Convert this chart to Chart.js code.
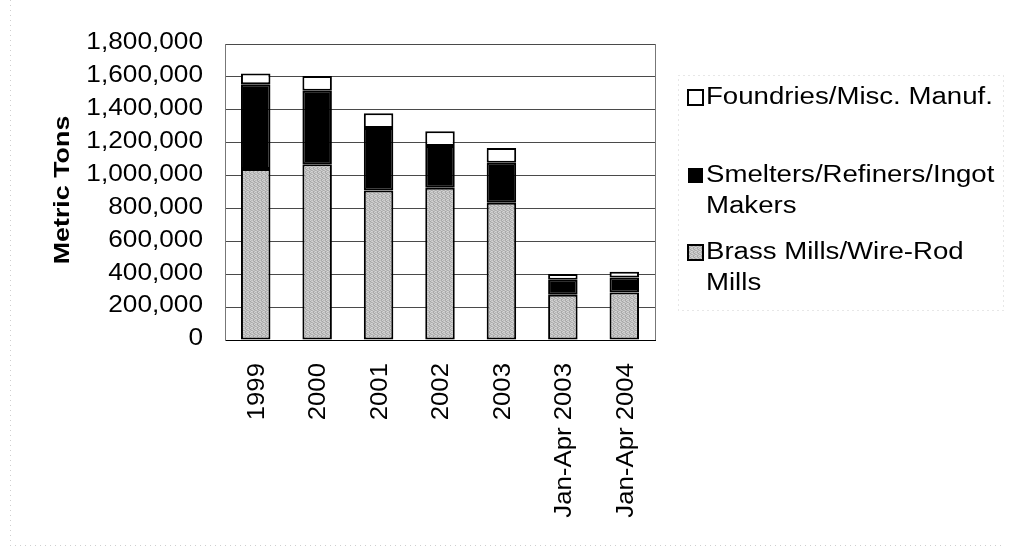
<!DOCTYPE html>
<html>
<head>
<meta charset="utf-8">
<script src="https://cdn.jsdelivr.net/npm/chart.js@4.4.1/dist/chart.umd.min.js"></script>
<style>
  html, body { margin: 0; padding: 0; background: #fff; overflow: hidden; }
  canvas { display: block; }
</style>
</head>
<body>
<canvas id="c" width="1010" height="552"></canvas>
<script>
// Copper consumption by end-user sector, metric tons
const categories = ['1999', '2000', '2001', '2002', '2003', 'Jan-Apr 2003', 'Jan-Apr 2004'];
const brassMills = [1040000, 1068000, 909000, 926000, 834000, 275000, 289000];
const smelters   = [515000, 447000, 380000, 253000, 244000, 91000, 91000];
const foundries  = [65000, 90000, 90000, 90000, 89000, 35000, 35000];
const yTickValues = [0, 200000, 400000, 600000, 800000, 1000000, 1200000, 1400000, 1600000, 1800000];
const yAxisTitle = 'Metric Tons';
const brassLines = ['Brass Mills/Wire-Rod', 'Mills'];
const smelterLines = ['Smelters/Refiners/Ingot', 'Makers'];
const foundryLines = ['Foundries/Misc. Manuf.'];

const FONT = '"Liberation Sans", Arial, Helvetica, sans-serif';

// stippled light-grey fill for the brass-mill segments
function stipple() {
  const shades = [
    [192, 170, 210, 184],
    [212, 186, 164, 200],
    [178, 206, 192, 172],
    [204, 166, 186, 214]
  ];
  const c = document.createElement('canvas');
  c.width = 4; c.height = 4;
  const g = c.getContext('2d');
  for (let y = 0; y < 4; y++) {
    for (let x = 0; x < 4; x++) {
      const v = shades[y][x];
      g.fillStyle = `rgb(${v},${v},${v})`;
      g.fillRect(x, y, 1, 1);
    }
  }
  return g.createPattern(c, 'repeat');
}
const greyFill = stipple();

// text set wide along its baseline
function wideText(ctx, text, x, y, o) {
  ctx.save();
  ctx.translate(x, y);
  if (o.rotate) ctx.rotate(o.rotate);
  ctx.scale(o.stretch || 1.14, 1);
  ctx.font = `${o.bold ? 'bold ' : ''}${o.size}px ${FONT}`;
  ctx.textAlign = o.align || 'left';
  ctx.textBaseline = o.baseline || 'alphabetic';
  ctx.fillStyle = '#000';
  ctx.fillText(text, 0, 0);
  ctx.restore();
}

const fmt = v => v.toLocaleString('en-US');

// axis labels, title, frame and legend
const decorations = {
  id: 'decorations',
  afterDraw(chart) {
    const ctx = chart.ctx;
    const area = chart.chartArea;
    const xs = chart.scales.x, ys = chart.scales.y;

    // right edge of plot frame
    ctx.save();
    ctx.strokeStyle = '#777';
    ctx.lineWidth = 1;
    ctx.beginPath();
    ctx.moveTo(Math.round(area.right) + 0.5, area.top);
    ctx.lineTo(Math.round(area.right) + 0.5, area.bottom);
    ctx.stroke();

    // faint outer frame and legend frame
    ctx.strokeStyle = '#cfcfcf';
    ctx.setLineDash([1, 4]);
    ctx.beginPath();
    ctx.moveTo(10.5, 0); ctx.lineTo(10.5, 548);
    ctx.moveTo(10, 545.5); ctx.lineTo(1005, 545.5);
    ctx.stroke();
    ctx.strokeRect(678.5, 75.5, 325, 235);
    ctx.restore();

    // value axis labels
    ys.ticks.forEach(t => {
      wideText(ctx, fmt(t.value), area.left - 22, ys.getPixelForValue(t.value) - 1,
        { size: 23, stretch: 1.14, align: 'right', baseline: 'middle' });
    });

    // category labels, reading upward
    chart.data.labels.forEach((lab, i) => {
      wideText(ctx, lab, xs.getPixelForValue(i) + 2, area.bottom + 23,
        { size: 23, stretch: 1.12, align: 'right', baseline: 'middle', rotate: -Math.PI / 2 });
    });

    // axis title
    wideText(ctx, yAxisTitle, 63, (area.top + area.bottom) / 2 - 2,
      { size: 22, stretch: 1.22, bold: true, align: 'center', baseline: 'middle', rotate: -Math.PI / 2 });

    // legend, top entry = top stack segment
    const entries = [
      { lines: foundryLines, fill: '#fff', border: true, y: 98 },
      { lines: smelterLines, fill: '#000', border: false, y: 176 },
      { lines: brassLines, fill: greyFill, border: true, y: 253 }
    ];
    entries.forEach(e => {
      ctx.save();
      ctx.fillStyle = e.fill;
      ctx.fillRect(688, e.y - 8, 15, 15);
      if (e.border) {
        ctx.strokeStyle = '#000';
        ctx.lineWidth = 2;
        ctx.strokeRect(688, e.y - 8, 15, 15);
      }
      ctx.restore();
      e.lines.forEach((ln, k) => {
        wideText(ctx, ln, 706, e.y + k * 31, { size: 23, stretch: 1.2, baseline: 'middle' });
      });
    });
  }
};

const barStyle = {
  borderColor: '#000',
  borderWidth: 2,
  borderSkipped: false,
  barPercentage: 0.48,
  categoryPercentage: 1.0
};

new Chart(document.getElementById('c'), {
  type: 'bar',
  data: {
    labels: categories,
    datasets: [
      Object.assign({ label: brassLines.join(' '), data: brassMills, backgroundColor: greyFill }, barStyle),
      Object.assign({ label: smelterLines.join(' '), data: smelters, backgroundColor: '#000' }, barStyle),
      Object.assign({ label: foundryLines.join(' '), data: foundries, backgroundColor: '#fff' }, barStyle)
    ]
  },
  options: {
    responsive: false,
    devicePixelRatio: 1,
    animation: false,
    events: [],
    layout: { padding: { left: 225, right: 355, top: 44, bottom: 212 } },
    plugins: { legend: { display: false }, tooltip: { enabled: false }, title: { display: false } },
    scales: {
      x: {
        stacked: true,
        grid: { display: false, drawTicks: false },
        border: { display: true, color: '#000', width: 1 },
        ticks: { display: false },
        afterFit: s => { s.height = 0; }
      },
      y: {
        stacked: true,
        min: 0,
        max: 1800000,
        afterBuildTicks: s => { s.ticks = yTickValues.map(v => ({ value: v })); },
        grid: { color: '#4a4a4a', lineWidth: 1, drawTicks: false },
        border: { display: true, color: '#777', width: 1 },
        ticks: { display: false },
        afterFit: s => { s.width = 0; }
      }
    }
  },
  plugins: [decorations]
});
</script>
</body>
</html>
